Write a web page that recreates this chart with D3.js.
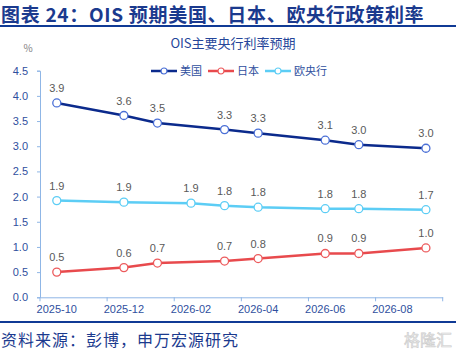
<!DOCTYPE html>
<html>
<head>
<meta charset="utf-8">
<script src="https://cdn.jsdelivr.net/npm/d3@7"></script>
<style>
  body { margin: 0; background: #fff; }
  svg { display: block; font-family: "Noto Sans CJK SC", "Liberation Sans", Arial, sans-serif; }
</style>
</head>
<body>
<script>
const width = 456;
const height = 363;

// months on the date axis (one band per month)
const months = ["2025-10", "2025-11", "2025-12", "2026-01", "2026-02", "2026-03",
  "2026-04", "2026-05", "2026-06", "2026-07", "2026-08", "2026-09"];
const tickLabels = ["2025-10", "2025-12", "2026-02", "2026-04", "2026-06", "2026-08"];

// meeting months for each central bank
const usMonths = ["2025-10", "2025-12", "2026-01", "2026-03", "2026-04", "2026-06", "2026-07", "2026-09"];
const jpMonths = ["2025-10", "2025-12", "2026-01", "2026-03", "2026-04", "2026-06", "2026-07", "2026-09"];
const ecbMonths = ["2025-10", "2025-12", "2026-02", "2026-03", "2026-04", "2026-06", "2026-07", "2026-09"];

const usValues = [3.86, 3.61, 3.46, 3.33, 3.26, 3.12, 3.03, 2.96];
const jpValues = [0.50, 0.59, 0.68, 0.72, 0.77, 0.87, 0.87, 0.98];
const ecbValues = [1.92, 1.89, 1.87, 1.82, 1.79, 1.76, 1.76, 1.74];

const seriesNames = ["美国", "日本", "欧央行"];
const yTicks = [0, 0.5, 1, 1.5, 2, 2.5, 3, 3.5, 4, 4.5];

const series = [
  { name: seriesNames[0], months: usMonths, values: usValues, color: "#0b2a8c", marker: "#4a6fd6" },
  { name: seriesNames[1], months: jpMonths, values: jpValues, color: "#e84a4d", marker: "#ec5a5c" },
  { name: seriesNames[2], months: ecbMonths, values: ecbValues, color: "#5ccdf5", marker: "#5ccdf5" }
];

const svg = d3.select("body").append("svg")
  .attr("width", width)
  .attr("height", height);

// header
svg.append("text")
  .attr("x", 1)
  .attr("y", 22)
  .style("font-size", "19px")
  .style("font-weight", "bold")
  .style("letter-spacing", "0.7px")
  .style("fill", "#1b3a8e")
  .text("图表 24：OIS 预期美国、日本、欧央行政策利率");

svg.append("line")
  .attr("x1", 0).attr("x2", width)
  .attr("y1", 26).attr("y2", 26)
  .attr("stroke", "#103a95")
  .attr("stroke-width", 2);

const x = d3.scaleBand()
  .domain(months)
  .range([40, 442.7])
  .padding(0);

const y = d3.scaleLinear()
  .domain([0, 4.5])
  .range([297.3, 70.7]);

const axisColor = "#8fb6e6";
const labelBlue = "#2f4f9e";

// chart title
svg.append("text")
  .attr("x", 233)
  .attr("y", 48)
  .attr("text-anchor", "middle")
  .style("font-size", "13px")
  .style("fill", "#25469a")
  .text("OIS主要央行利率预期");

svg.append("text")
  .attr("x", 28)
  .attr("y", 52)
  .attr("text-anchor", "middle")
  .style("font-size", "10px")
  .style("fill", "#7f7f7f")
  .text("%");

// y axis
const yAxis = svg.append("g")
  .attr("transform", "translate(40,0)")
  .call(d3.axisLeft(y).tickValues(yTicks).tickFormat(d3.format(".1f")).tickSize(3).tickPadding(9));
yAxis.selectAll("path, line").attr("stroke", axisColor);
yAxis.selectAll("text")
  .style("font-size", "11px")
  .style("font-family", "Liberation Sans, Arial, sans-serif")
  .style("fill", labelBlue);

// x axis: labels at band centres, ticks at band edges every two months
const xAxis = svg.append("g")
  .attr("transform", "translate(0,297.3)")
  .call(d3.axisBottom(x).tickValues(tickLabels).tickSize(0).tickPadding(8));
xAxis.select("path").attr("stroke", axisColor);
xAxis.selectAll("text")
  .style("font-size", "11px")
  .style("font-family", "Liberation Sans, Arial, sans-serif")
  .style("fill", labelBlue);

const tickEdges = tickLabels.map(m => x(m)).concat([x.range()[1]]);
xAxis.selectAll(".edge")
  .data(tickEdges)
  .enter().append("line")
  .attr("class", "edge")
  .attr("x1", d => d).attr("x2", d => d)
  .attr("y1", 0).attr("y2", 4)
  .attr("stroke", axisColor);

const px = m => x(m) + x.bandwidth() / 2;

series.forEach(s => {
  const line = d3.line()
    .x((d, i) => px(s.months[i]))
    .y(d => y(d));

  const g = svg.append("g");
  g.append("path")
    .datum(s.values)
    .attr("fill", "none")
    .attr("stroke", s.color)
    .attr("stroke-width", 2.5)
    .attr("d", line);

  g.selectAll("circle")
    .data(s.values)
    .enter().append("circle")
    .attr("cx", (d, i) => px(s.months[i]))
    .attr("cy", d => y(d))
    .attr("r", 4)
    .attr("fill", "#fff")
    .attr("stroke", s.marker)
    .attr("stroke-width", 1.3);

  g.selectAll("text")
    .data(s.values)
    .enter().append("text")
    .attr("x", (d, i) => px(s.months[i]))
    .attr("y", d => y(d) - 11)
    .attr("text-anchor", "middle")
    .style("font-size", "11px")
    .style("font-family", "Liberation Sans, Arial, sans-serif")
    .style("fill", "#595959")
    .text(d => d3.format(".1f")(d));
});

// legend
const legendX = [151, 208, 265];
const legend = svg.append("g");
series.forEach((s, i) => {
  const lg = legend.append("g").attr("transform", `translate(${legendX[i]},71)`);
  lg.append("line")
    .attr("x1", 0).attr("x2", 26)
    .attr("stroke", s.color)
    .attr("stroke-width", 2.5);
  lg.append("circle")
    .attr("cx", 13).attr("r", 3)
    .attr("fill", "#fff")
    .attr("stroke", s.marker)
    .attr("stroke-width", 1.2);
  lg.append("text")
    .attr("x", 29)
    .attr("y", 4)
    .style("font-size", "11px")
    .style("fill", labelBlue)
    .text(s.name);
});

// footer
svg.append("line")
  .attr("x1", 0).attr("x2", width)
  .attr("y1", 322).attr("y2", 322)
  .attr("stroke", "#103a95")
  .attr("stroke-width", 2);

svg.append("text")
  .attr("x", 1)
  .attr("y", 346)
  .style("font-size", "16px")
  .style("letter-spacing", "1px")
  .style("fill", "#1b3a8e")
  .text("资料来源：彭博，申万宏源研究");

svg.append("text")
  .attr("x", 452)
  .attr("y", 346)
  .attr("text-anchor", "end")
  .style("font-size", "16px")
  .style("fill", "#eeeeee")
  .style("stroke", "#cccccc")
  .style("stroke-width", 0.6)
  .text("格隆汇");
</script>
</body>
</html>
